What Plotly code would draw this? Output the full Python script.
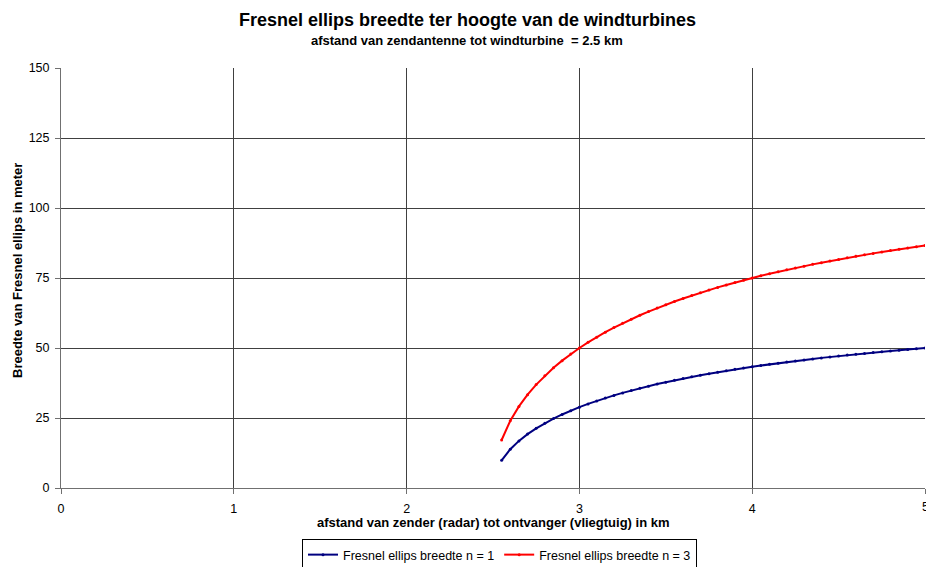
import plotly.graph_objects as go

# Distance from transmitter (radar) to receiver (aircraft), km
afstand_km = [2.55, 2.60, 2.65, 2.70, 2.75, 2.80, 2.85, 2.90, 2.95, 3.00,
              3.05, 3.10, 3.15, 3.20, 3.25, 3.30, 3.35, 3.40, 3.45, 3.50,
              3.55, 3.60, 3.65, 3.70, 3.75, 3.80, 3.85, 3.90, 3.95, 4.00,
              4.05, 4.10, 4.15, 4.20, 4.25, 4.30, 4.35, 4.40, 4.45, 4.50,
              4.55, 4.60, 4.65, 4.70, 4.75, 4.80, 4.85, 4.90, 4.95, 5.00]

# Fresnel ellipse width at turbine height, metres
breedte_n1 = [9.90, 13.87, 16.82, 19.25, 21.32, 23.15, 24.78, 26.26, 27.62, 28.87,
              30.03, 31.11, 32.12, 33.07, 33.97, 34.82, 35.62, 36.38, 37.11, 37.80,
              38.46, 39.09, 39.69, 40.27, 40.82, 41.36, 41.87, 42.37, 42.84, 43.30,
              43.74, 44.17, 44.59, 44.99, 45.37, 45.75, 46.11, 46.47, 46.81, 47.14,
              47.46, 47.78, 48.08, 48.38, 48.67, 48.95, 49.22, 49.49, 49.75, 50.00]

breedte_n3 = [17.15, 24.02, 29.14, 33.33, 36.93, 40.09, 42.92, 45.49, 47.83, 50.00,
              52.01, 53.88, 55.64, 57.28, 58.84, 60.30, 61.69, 63.01, 64.27, 65.47,
              66.61, 67.70, 68.75, 69.75, 70.71, 71.64, 72.52, 73.38, 74.20, 75.00,
              75.77, 76.51, 77.23, 77.92, 78.59, 79.24, 79.87, 80.48, 81.07, 81.65,
              82.21, 82.75, 83.28, 83.79, 84.29, 84.78, 85.25, 85.71, 86.16, 86.60]

x_ticks = [0, 1, 2, 3, 4, 5]
y_ticks = [0, 25, 50, 75, 100, 125, 150]

FONT = "Liberation Sans, Arial, sans-serif"
TICK_SIZE = 12.5

# plot area in pixels: x 61..925, y 68..488
L, R, T, B = 61, 925, 68, 488


def px_x(p):
    return (p - L) / (R - L)


def px_y(p):
    return (B - p) / (B - T)


fig = go.Figure()
fig.add_trace(go.Scatter(
    x=afstand_km, y=breedte_n1, mode="lines+markers",
    name="Fresnel ellips breedte n = 1",
    line=dict(color="#000080", width=2),
    marker=dict(color="#000080", size=3),
))
fig.add_trace(go.Scatter(
    x=afstand_km, y=breedte_n3, mode="lines+markers",
    name="Fresnel ellips breedte n = 3",
    line=dict(color="#FF0000", width=2),
    marker=dict(color="#FF0000", size=3),
))

axis_common = dict(
    showgrid=True, gridcolor="#404040", gridwidth=1,
    showline=True, linecolor="#707070", linewidth=1,
    ticks="outside", ticklen=5, tickcolor="#707070",
    tickfont=dict(family=FONT, size=TICK_SIZE, color="#000000"),
    zeroline=False,
)

fig.update_xaxes(range=[0, 5], tickvals=x_ticks, ticklabelstandoff=4, **axis_common)
fig.update_yaxes(range=[0, 150], tickvals=y_ticks, ticklabelstandoff=3, **axis_common)

annotations = [
    dict(text="<b>Fresnel ellips breedte ter hoogte van de windturbines</b>",
         xref="paper", yref="paper", x=px_x(467.5), y=px_y(20),
         xanchor="center", yanchor="middle", showarrow=False,
         font=dict(family=FONT, size=18)),
    dict(text="<b>afstand van zendantenne tot windturbine  = 2.5 km</b>",
         xref="paper", yref="paper", x=px_x(467), y=px_y(40),
         xanchor="center", yanchor="middle", showarrow=False,
         font=dict(family=FONT, size=13)),
    dict(text="<b>afstand van zender (radar) tot ontvanger (vliegtuig) in km</b>",
         xref="paper", yref="paper", x=px_x(493), y=px_y(522),
         xanchor="center", yanchor="middle", showarrow=False,
         font=dict(family=FONT, size=13)),
    dict(text="<b>Breedte van Fresnel ellips in meter</b>",
         xref="paper", yref="paper", x=px_x(17), y=px_y(271),
         xanchor="center", yanchor="middle", showarrow=False, textangle=-90,
         font=dict(family=FONT, size=13)),
    # last x tick label sits on the right edge of the canvas
    dict(text="5", xref="x", yref="paper", x=x_ticks[-1], y=px_y(507),
         xanchor="center", yanchor="middle", showarrow=False,
         font=dict(family=FONT, size=TICK_SIZE)),
]

fig.update_layout(
    width=926, height=567,
    margin=dict(l=L, r=926 - R, t=T, b=567 - B, autoexpand=False),
    paper_bgcolor="#FFFFFF", plot_bgcolor="#FFFFFF",
    font=dict(family=FONT, size=12.5, color="#000000"),
    showlegend=True,
    legend=dict(
        orientation="h", x=px_x(302), y=px_y(539), xanchor="left", yanchor="top",
        bordercolor="#000000", borderwidth=1, bgcolor="#FFFFFF",
        font=dict(family=FONT, size=12.5), itemwidth=30,
        tracegroupgap=0,
    ),
    annotations=annotations,
)

fig.write_html("out.html")
